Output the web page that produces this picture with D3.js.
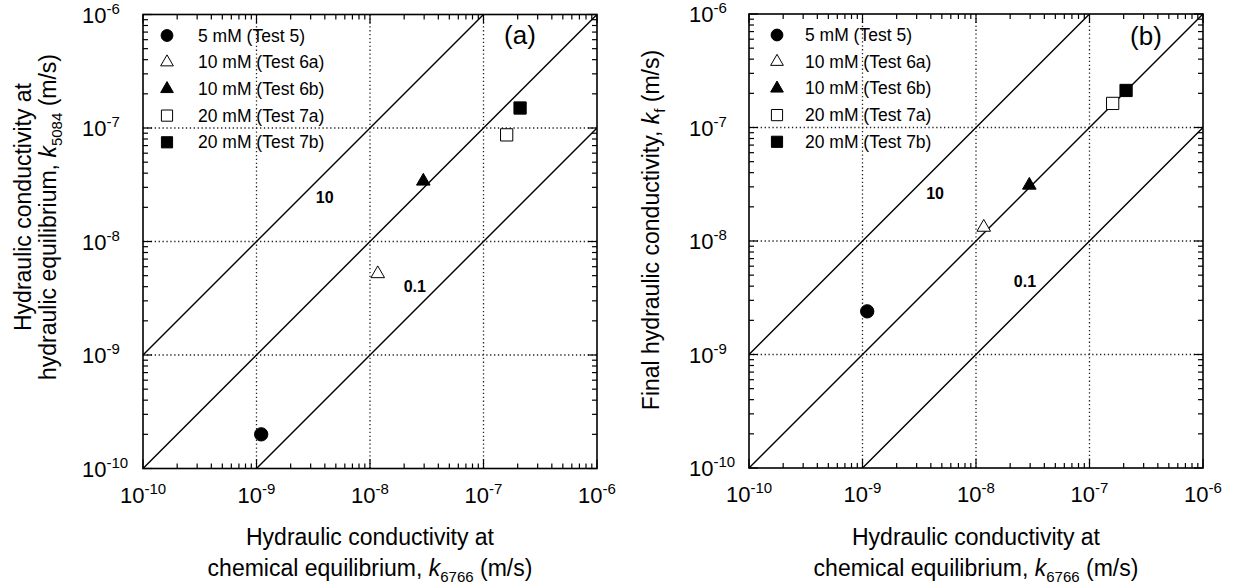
<!DOCTYPE html>
<html>
<head>
<meta charset="utf-8">
<script src="https://cdn.jsdelivr.net/npm/d3@7"></script>
<style>
  html, body { margin: 0; padding: 0; background: #fff; }
  svg { display: block; font-family: "Liberation Sans", Arial, sans-serif; }
</style>
</head>
<body>
<svg id="chart" width="1238" height="586"></svg>
<script>
// ---------------- data ----------------
const tickExponents = [-10, -9, -8, -7, -6];
const seriesNames = ["5 mM (Test 5)", "10 mM (Test 6a)", "10 mM (Test 6b)", "20 mM (Test 7a)", "20 mM (Test 7b)"];
const seriesShapes = ["circle", "triangle", "triangle", "square", "square"];
const seriesFilled = [true, false, true, false, true];
const k6766 = [1.1e-9, 1.17e-8, 2.95e-8, 1.6e-7, 2.1e-7];
const k5084 = [2.0e-10, 5.2e-9, 3.4e-8, 8.7e-8, 1.5e-7];
const kf    = [2.4e-9, 1.32e-8, 3.1e-8, 1.63e-7, 2.12e-7];
const ratioLines = [10, 1, 0.1];
const ratioLabels = ["10", "0.1"];

// ---------------- layout ----------------
const panels = [
  { id: "a", x0: 143, y0: 14.5, size: 454, yvals: k5084, label: "(a)",
    labelPos: [520, 44], legendX: 24, textX: 55, tickLabelX: 82,
    ratioLabelAt: [[3.99e-9, 2.45e-8], [2.48e-8, 4.06e-9]],
    ytitle: [
      { x: 31, y: 207, parts: [["Hydraulic conductivity at"]] },
      { x: 56, y: 217, parts: [["hydraulic equilibrium, "], ["k", "it"], ["5084", "sub"], [" (m/s)"]] }
    ] },
  { id: "b", x0: 749, y0: 14, size: 454, yvals: kf, label: "(b)",
    labelPos: [1146, 45], legendX: 28, textX: 56, tickLabelX: 689,
    ratioLabelAt: [[4.36e-9, 2.63e-8], [2.7e-8, 4.38e-9]],
    ytitle: [
      { x: 659, y: 230, parts: [["Final hydraulic conductivity, "], ["k", "it"], ["f", "sub"], [" (m/s)"]] }
    ] }
];

const svg = d3.select("#chart");
const domain = [1e-10, 1e-6];

function addParts(textSel, parts) {
  let inSub = false;
  parts.forEach(p => {
    const t = textSel.append("tspan").text(p[0]);
    if (p[1] === "it") t.attr("font-style", "italic");
    if (p[1] === "sub") { t.attr("font-size", 15).attr("dy", 6); inSub = true; }
    else if (inSub) { t.attr("dy", -6); inSub = false; }
  });
}

panels.forEach(P => {
  const x = d3.scaleLog().domain(domain).range([P.x0, P.x0 + P.size]);
  const y = d3.scaleLog().domain(domain).range([P.y0 + P.size, P.y0]);
  const g = svg.append("g");

  const clipId = "clip-" + P.id;
  svg.append("clipPath").attr("id", clipId).append("rect")
    .attr("x", P.x0).attr("y", P.y0).attr("width", P.size).attr("height", P.size);

  // grid
  const gridVals = tickExponents.slice(1, -1).map(e => Math.pow(10, e));
  g.selectAll(".vgrid").data(gridVals).join("line")
    .attr("x1", d => x(d)).attr("x2", d => x(d))
    .attr("y1", P.y0).attr("y2", P.y0 + P.size)
    .attr("stroke", "#222").attr("stroke-width", 1.3).attr("stroke-dasharray", "1.3,2.6");
  g.selectAll(".hgrid").data(gridVals).join("line")
    .attr("y1", d => y(d)).attr("y2", d => y(d))
    .attr("x1", P.x0).attr("x2", P.x0 + P.size)
    .attr("stroke", "#222").attr("stroke-width", 1.3).attr("stroke-dasharray", "1.3,2.6");

  // ratio lines
  const lineGen = d3.line().x(d => x(d[0])).y(d => y(d[1]));
  g.append("g").attr("clip-path", `url(#${clipId})`)
    .selectAll("path").data(ratioLines).join("path")
    .attr("d", r => lineGen([[domain[0] / 100, domain[0] / 100 * r], [domain[1] * 100, domain[1] * 100 * r]]))
    .attr("fill", "none").attr("stroke", "#000").attr("stroke-width", 1.4);

  // ratio labels
  g.selectAll(".rlab").data(ratioLabels).join("text")
    .attr("x", (d, i) => x(P.ratioLabelAt[i][0]))
    .attr("y", (d, i) => y(P.ratioLabelAt[i][1]))
    .attr("dy", "0.35em")
    .attr("text-anchor", "middle").attr("font-weight", "bold").attr("font-size", 16)
    .text(d => d);

  // ticks (inward) all four sides
  const majors = tickExponents.map(e => Math.pow(10, e));
  const minors = [];
  tickExponents.slice(0, -1).forEach(e => { for (let m = 2; m <= 9; m++) minors.push(m * Math.pow(10, e)); });
  const ticks = majors.map(v => ({ v, len: 9 })).concat(minors.map(v => ({ v, len: 5 })));
  const tg = g.append("g").attr("stroke", "#000").attr("stroke-width", 1.2);
  tg.selectAll(".tb").data(ticks).join("line").attr("class", "tb")
    .attr("x1", d => x(d.v)).attr("x2", d => x(d.v))
    .attr("y1", P.y0 + P.size).attr("y2", d => P.y0 + P.size - d.len);
  tg.selectAll(".tt").data(ticks).join("line").attr("class", "tt")
    .attr("x1", d => x(d.v)).attr("x2", d => x(d.v))
    .attr("y1", P.y0).attr("y2", d => P.y0 + d.len);
  tg.selectAll(".tl").data(ticks).join("line").attr("class", "tl")
    .attr("y1", d => y(d.v)).attr("y2", d => y(d.v))
    .attr("x1", P.x0).attr("x2", d => P.x0 + d.len);
  tg.selectAll(".tr").data(ticks).join("line").attr("class", "tr")
    .attr("y1", d => y(d.v)).attr("y2", d => y(d.v))
    .attr("x1", P.x0 + P.size).attr("x2", d => P.x0 + P.size - d.len);

  // frame
  g.append("rect").attr("x", P.x0).attr("y", P.y0).attr("width", P.size).attr("height", P.size)
    .attr("fill", "none").attr("stroke", "#000").attr("stroke-width", 1.6);

  // tick labels
  const xl = g.selectAll(".xl").data(tickExponents).join("text")
    .attr("x", e => x(Math.pow(10, e))).attr("y", P.y0 + P.size + 34)
    .attr("text-anchor", "middle").attr("font-size", 22);
  xl.append("tspan").text("10");
  xl.append("tspan").attr("font-size", 15).attr("dy", -9).text(e => String(e));

  const yl = g.selectAll(".yl").data(tickExponents).join("text")
    .attr("x", P.tickLabelX).attr("y", e => y(Math.pow(10, e)) + 8)
    .attr("text-anchor", "start").attr("font-size", 22);
  yl.append("tspan").text("10");
  yl.append("tspan").attr("font-size", 15).attr("dy", -9).text(e => String(e));

  // x title
  const cx = P.x0 + P.size / 2;
  g.append("text").attr("x", cx).attr("y", 545).attr("text-anchor", "middle").attr("font-size", 23)
    .text("Hydraulic conductivity at");
  const xt2 = g.append("text").attr("x", cx).attr("y", 576).attr("text-anchor", "middle").attr("font-size", 23);
  addParts(xt2, [["chemical equilibrium, "], ["k", "it"], ["6766", "sub"], [" (m/s)"]]);

  // y title
  P.ytitle.forEach(t => {
    const el = g.append("text").attr("text-anchor", "middle").attr("font-size", 23)
      .attr("transform", `translate(${t.x},${t.y}) rotate(-90)`);
    addParts(el, t.parts);
  });

  // data markers
  function symFor(i, big) {
    const s = seriesShapes[i];
    if (s === "circle") return d3.symbol(d3.symbolCircle, big ? 140 : 110)();
    if (s === "square") return d3.symbol(d3.symbolSquare, big ? 150 : 125)();
    return d3.symbol(d3.symbolTriangle, big ? 80 : 70)();
  }
  g.selectAll(".pt").data(k6766).join("path")
    .attr("transform", (d, i) => `translate(${x(d)},${y(P.yvals[i])})`)
    .attr("d", (d, i) => symFor(i, true))
    .attr("fill", (d, i) => seriesFilled[i] ? "#000" : "#fff")
    .attr("stroke", "#000").attr("stroke-width", 1);

  // legend
  const lg = g.append("g");
  const rowY = i => P.y0 + 21 + i * 26.7;
  lg.selectAll("path").data(seriesNames).join("path")
    .attr("transform", (d, i) => `translate(${P.x0 + P.legendX},${rowY(i)})`)
    .attr("d", (d, i) => symFor(i, false))
    .attr("fill", (d, i) => seriesFilled[i] ? "#000" : "#fff")
    .attr("stroke", "#000").attr("stroke-width", 1);
  lg.selectAll("text").data(seriesNames).join("text")
    .attr("x", P.x0 + P.textX).attr("y", (d, i) => rowY(i) + 6)
    .attr("font-size", 17.5).text(d => d);

  // panel label
  g.append("text").attr("x", P.labelPos[0]).attr("y", P.labelPos[1])
    .attr("text-anchor", "middle").attr("font-size", 26).text(P.label);
});
</script>
</body>
</html>
